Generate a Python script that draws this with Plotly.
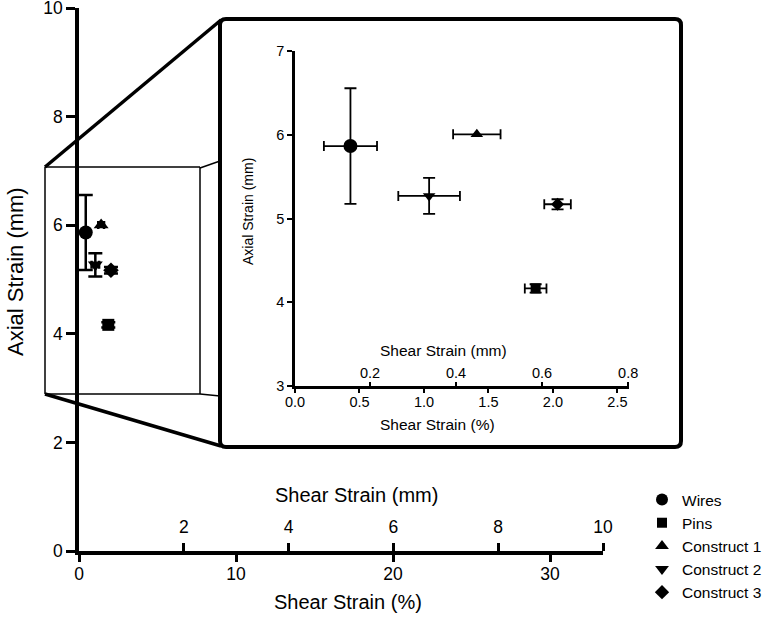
import plotly.graph_objects as go

W, H = 774, 618

# ---- data ----
groups = ["Wires", "Pins", "Construct 1", "Construct 2", "Construct 3"]
shear_pct = [0.43, 1.866, 1.41, 1.04, 2.036]
shear_pct_err = [0.206, 0.084, 0.184, 0.239, 0.103]
axial_mm = [5.865, 4.165, 6.005, 5.27, 5.17]
axial_mm_err = [0.69, 0.05, 0.0, 0.215, 0.06]
symbols = ["circle", "square", "triangle-up", "triangle-down", "diamond"]

main_y_ticks = [0, 2, 4, 6, 8, 10]
main_pct_ticks = [0, 10, 20, 30]
main_mm_ticks = [2, 4, 6, 8, 10]
inset_y_ticks = [3, 4, 5, 6, 7]
inset_pct_ticks = [0.0, 0.5, 1.0, 1.5, 2.0, 2.5]
inset_mm_ticks = [0.2, 0.4, 0.6, 0.8]

main_size = [14, 12, 13, 13, 12]
inset_size = [14, 10, 11, 11, 10]
legend_size = [12, 10, 12, 12, 11]

FONT = "Liberation Sans, Arial, sans-serif"


def fx(p):
    return p / W


def fy(p):
    return 1 - p / H


fig = go.Figure()

for i, g in enumerate(groups):
    # main plot
    fig.add_trace(go.Scatter(
        x=[shear_pct[i]], y=[axial_mm[i]], mode="markers",
        marker=dict(symbol=symbols[i], size=main_size[i], color="black"),
        error_x=dict(type="data", array=[shear_pct_err[i]], color="black", thickness=2.5, width=4),
        error_y=dict(type="data", array=[axial_mm_err[i]], color="black", thickness=2.5, width=7,
                     visible=axial_mm_err[i] > 0),
        xaxis="x", yaxis="y", showlegend=False, cliponaxis=False, hoverinfo="skip"))
    # inset
    fig.add_trace(go.Scatter(
        x=[shear_pct[i]], y=[axial_mm[i]], mode="markers",
        marker=dict(symbol=symbols[i], size=inset_size[i], color="black"),
        error_x=dict(type="data", array=[shear_pct_err[i]], color="black", thickness=1.8, width=5),
        error_y=dict(type="data", array=[axial_mm_err[i]], color="black", thickness=1.8, width=6,
                     visible=axial_mm_err[i] > 0),
        xaxis="x3", yaxis="y3", showlegend=False, cliponaxis=False, hoverinfo="skip"))
    # legend entry
    fig.add_trace(go.Scatter(
        x=[None], y=[None], mode="markers", name=g,
        marker=dict(symbol=symbols[i], size=legend_size[i], color="black"),
        xaxis="x", yaxis="y", showlegend=True))

# dummy traces so the secondary (mm) axes are drawn
fig.add_trace(go.Scatter(x=[None], y=[None], xaxis="x2", yaxis="y", showlegend=False, hoverinfo="skip"))
fig.add_trace(go.Scatter(x=[None], y=[None], xaxis="x4", yaxis="y3", showlegend=False, hoverinfo="skip"))

main_dom_x = [fx(79), fx(603)]
main_dom_y = [fy(551), fy(8)]
ins_dom_x = [fx(295), fx(629)]
ins_dom_y = [fy(386), fy(51)]

common = dict(showgrid=False, zeroline=False, color="black", ticks="outside", tickcolor="black",
              ticklabeloverflow="allow")

fig.update_layout(
    width=W, height=H, margin=dict(l=0, r=0, t=0, b=0, autoexpand=False),
    paper_bgcolor="white", plot_bgcolor="rgba(0,0,0,0)",
    font=dict(family=FONT, color="black"),
    xaxis=dict(domain=main_dom_x, range=[0, 33.37], anchor="y", tickvals=main_pct_ticks,
               showline=True, linewidth=3.5, linecolor="black", ticklen=7, tickwidth=3,
               ticklabelstandoff=-3, tickfont=dict(size=17.5), **common),
    xaxis2=dict(domain=main_dom_x, range=[0, 10], overlaying="x", anchor="free", position=fy(551),
                side="top", tickvals=main_mm_ticks, showline=False, ticklen=8, tickwidth=3,
                ticklabelstandoff=3, tickfont=dict(size=17.5), **common),
    yaxis=dict(domain=main_dom_y, range=[0, 10], anchor="x", tickvals=main_y_ticks,
               showline=True, linewidth=3.5, linecolor="black", ticklen=9, tickwidth=3,
               tickfont=dict(size=17.5), **common),
    xaxis3=dict(domain=ins_dom_x, range=[0, 2.59], anchor="y3", tickvals=inset_pct_ticks,
                tickformat=".1f", showline=True, linewidth=2.5, linecolor="black", ticklen=4,
                tickwidth=2, ticklabelstandoff=-3, tickfont=dict(size=14.5), **common),
    xaxis4=dict(domain=ins_dom_x, range=[0.0256, 0.802], overlaying="x3", anchor="free",
                position=fy(386), side="top", tickvals=inset_mm_ticks, tickformat=".1f",
                showline=False, ticklen=4, tickwidth=2, ticklabelstandoff=-2,
                tickfont=dict(size=14.5), **common),
    yaxis3=dict(domain=ins_dom_y, range=[3, 7], anchor="x3", tickvals=inset_y_ticks,
                showline=True, linewidth=2.5, linecolor="black", ticklen=5, tickwidth=2,
                tickfont=dict(size=14.5), **common),
    legend=dict(x=fx(642), y=fy(483), xanchor="left", yanchor="top", font=dict(size=15.5),
                bgcolor="rgba(0,0,0,0)", borderwidth=0, tracegroupgap=0),
)

# ---- decorations (zoom box, connectors, inset frame) ----
shapes = []


def line(x0, y0, x1, y1, w):
    shapes.append(dict(type="line", xref="paper", yref="paper", x0=fx(x0), y0=fy(y0),
                       x1=fx(x1), y1=fy(y1), line=dict(color="black", width=w)))


# zoom box
line(45, 167, 200, 167, 1.5)
line(45, 394, 200, 394, 1.5)
line(45, 167, 45, 394, 1.5)
line(200, 167, 200, 394, 1.5)
line(200, 168, 220, 161, 1.5)
line(200, 394, 220, 396, 1.5)
# connectors
line(45, 167, 221, 20, 3.5)
line(45, 394, 221, 446, 3.5)

# rounded inset frame
L, R, T, B, r = 220, 681, 19, 447, 6
path = (f"M {fx(L+r)},{fy(T)} L {fx(R-r)},{fy(T)} Q {fx(R)},{fy(T)} {fx(R)},{fy(T+r)} "
        f"L {fx(R)},{fy(B-r)} Q {fx(R)},{fy(B)} {fx(R-r)},{fy(B)} "
        f"L {fx(L+r)},{fy(B)} Q {fx(L)},{fy(B)} {fx(L)},{fy(B-r)} "
        f"L {fx(L)},{fy(T+r)} Q {fx(L)},{fy(T)} {fx(L+r)},{fy(T)} Z")
shapes.append(dict(type="path", xref="paper", yref="paper", path=path,
                   line=dict(color="black", width=4)))
fig.update_layout(shapes=shapes)


def label(text, x, y, size, angle=0):
    fig.add_annotation(text=text, xref="paper", yref="paper", x=fx(x), y=fy(y),
                       xanchor="center", yanchor="middle", showarrow=False,
                       textangle=angle, font=dict(size=size, family=FONT, color="black"))


label("Axial Strain (mm)", 15, 272, 22, -90)
label("Shear Strain (mm)", 356, 495, 20)
label("Shear Strain (%)", 348, 602, 20)
label("Axial Strain (mm)", 248, 211, 14, -90)
label("Shear Strain (mm)", 443, 350, 15.5)
label("Shear Strain (%)", 437, 424, 15.5)

fig.write_html("out.html", config={"displayModeBar": False},
               post_script="document.body.style.margin='0';document.body.style.overflow='hidden';")
